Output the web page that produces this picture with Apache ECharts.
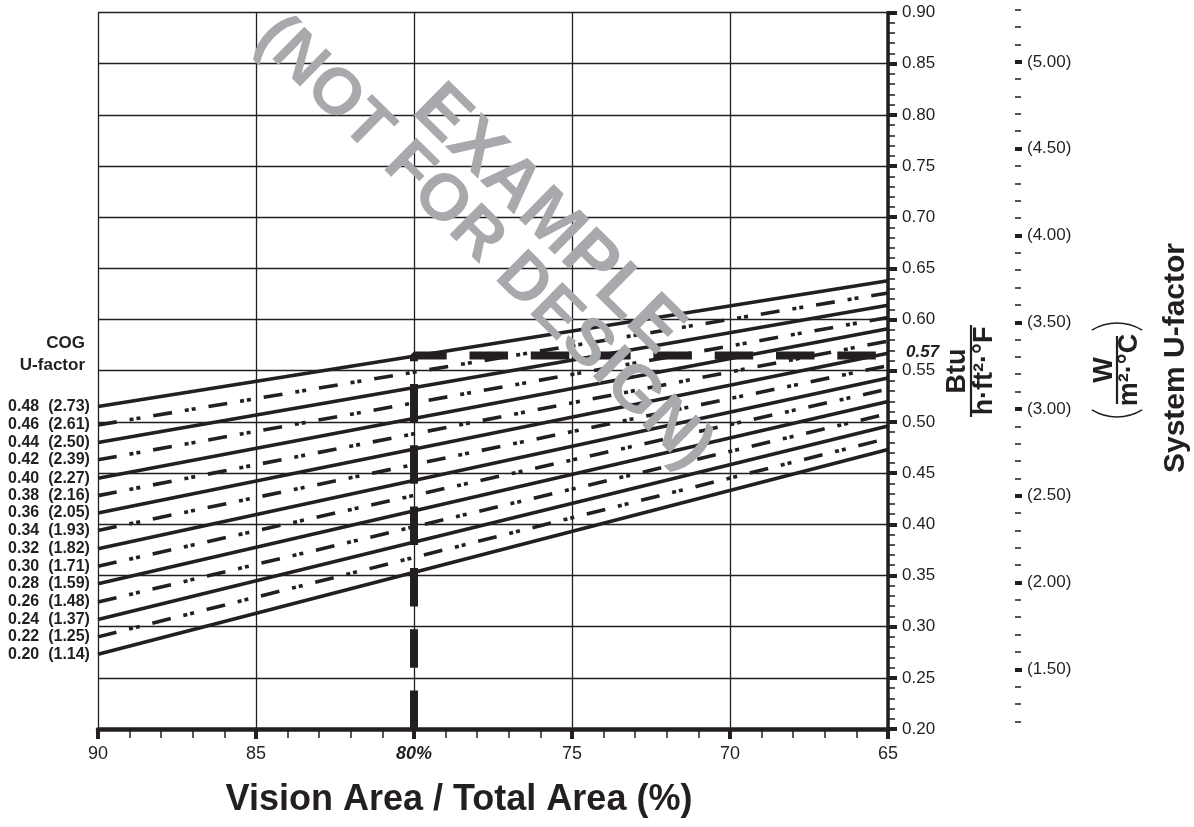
<!DOCTYPE html>
<html>
<head>
<meta charset="utf-8">
<script src="https://cdn.jsdelivr.net/npm/echarts/dist/echarts.min.js"></script>
<style>
  html, body { margin: 0; padding: 0; background: #fff; }
  #chart { width: 1194px; height: 827px; }
</style>
</head>
<body>
<div id="chart"></div>
<script>
// COG U-factor of each line, IP and (SI)
var cogIP = ['0.48', '0.46', '0.44', '0.42', '0.40', '0.38', '0.36', '0.34', '0.32', '0.30', '0.28', '0.26', '0.24', '0.22', '0.20']
var cogSI = ['2.73', '2.61', '2.50', '2.39', '2.27', '2.16', '2.05', '1.93', '1.82', '1.71', '1.59', '1.48', '1.37', '1.25', '1.14']
// vision area / total area (%) at the two ends of every line
var visionArea = [90, 65]
var sysAt90 = [0.515, 0.497, 0.480, 0.463, 0.445, 0.428, 0.411, 0.394, 0.376, 0.359, 0.342, 0.324, 0.307, 0.290, 0.273]
var sysAt65 = [0.638, 0.626, 0.614, 0.602, 0.591, 0.579, 0.567, 0.555, 0.543, 0.532, 0.520, 0.508, 0.496, 0.484, 0.473]
// worked example: 80 % vision area
var exampleX = [80, 80, 65]
var exampleY = [0.20, 0.565, 0.565]
var exampleLabel = '0.57'

var ink = '#231f20'
var font = '"Liberation Sans", Arial, Helvetica, sans-serif'

// the 15 COG lines, solid and dash-dot-dot in turn
var lineSeries = cogIP.map(function (c, k) {
  return {
    type: 'line',
    xAxisIndex: 0,
    yAxisIndex: 0,
    data: [[visionArea[0], sysAt90[k]], [visionArea[1], sysAt65[k]]],
    symbol: 'circle',
    symbolSize: 0.1,
    showSymbol: true,
    silent: true,
    z: 3,
    lineStyle: {
      color: ink,
      width: 3.6,
      cap: 'butt',
      type: k % 2 === 0 ? 'solid' : [19, 13, 4, 3, 4, 13]
    },
    itemStyle: { color: ink },
    label: {
      show: true,
      position: 'left',
      distance: 8,
      fontFamily: font,
      fontSize: 16,
      fontWeight: 'bold',
      color: ink,
      formatter: function (p) {
        return p.dataIndex === 0 ? c + '  (' + cogSI[k] + ')' : ''
      }
    }
  }
})

var guideSeries = {
  type: 'line',
  xAxisIndex: 0,
  yAxisIndex: 0,
  data: exampleX.map(function (x, i) { return [x, exampleY[i]] }),
  symbol: 'circle',
  symbolSize: 0.1,
  showSymbol: true,
  silent: true,
  z: 4,
  lineStyle: { color: ink, width: 8, cap: 'butt', type: [38.5, 22.8] },
  itemStyle: { color: ink },
  label: {
    show: true,
    position: 'right',
    distance: 18,
    offset: [0, -3],
    fontFamily: font,
    fontSize: 17,
    fontWeight: 'bold',
    fontStyle: 'italic',
    color: ink,
    formatter: function (p) {
      return p.dataIndex === exampleX.length - 1 ? exampleLabel : ''
    }
  }
}

function boldText (txt, x, y, size, extra) {
  return Object.assign({
    type: 'text', x: x, y: y,
    style: { text: txt, font: 'bold ' + size + 'px ' + font, fill: ink, align: 'center', verticalAlign: 'middle' }
  }, extra || {})
}

var noLine = { show: true, onZero: false, lineStyle: { color: 'rgba(0,0,0,0)', width: 0 } }

var option = {
  animation: false,
  backgroundColor: '#fff',
  grid: [
    { left: 98, right: 306, top: 12.5, bottom: 98, outerBoundsMode: 'none' },
    // SI scale, labelled ticks 1.5 .. 5.5
    { left: 1005, right: 179, top: -24.7, bottom: 157.7, outerBoundsMode: 'none' },
    // SI scale, fine ticks 1.2 .. 5.3 (same px per unit)
    { left: 1005, right: 179, top: 9.7, bottom: 105.6, outerBoundsMode: 'none' }
  ],
  xAxis: [
    {
      gridIndex: 0,
      type: 'value',
      min: 65,
      max: 90,
      interval: 5,
      inverse: true,
      position: 'bottom',
      axisLine: { onZero: false, lineStyle: { color: ink, width: 4.5 } },
      axisTick: { show: true, length: 10, lineStyle: { color: ink, width: 4 } },
      minorTick: { show: true, splitNumber: 5, length: 9, lineStyle: { color: ink, width: 1.5 } },
      splitLine: { show: true, lineStyle: { color: ink, width: 1.3 } },
      axisLabel: {
        margin: 16,
        fontFamily: font,
        fontSize: 18,
        color: ink,
        formatter: function (v) { return v === 80 ? '{em|80%}' : String(v) },
        rich: { em: { fontFamily: font, fontSize: 18, fontWeight: 'bold', fontStyle: 'italic', color: ink } }
      }
    },
    { gridIndex: 1, type: 'value', min: 0, max: 1, show: false },
    { gridIndex: 2, type: 'value', min: 0, max: 1, show: false }
  ],
  yAxis: [
    {
      gridIndex: 0,
      type: 'value',
      position: 'right',
      min: 0.2,
      max: 0.9,
      interval: 0.05,
      axisLine: { show: true, onZero: false, lineStyle: { color: ink, width: 3.5 } },
      axisTick: { show: true, length: 9, lineStyle: { color: ink, width: 4 } },
      minorTick: { show: true, splitNumber: 5, length: 7, lineStyle: { color: ink, width: 1.5 } },
      splitLine: { show: true, lineStyle: { color: ink, width: 1.3 } },
      axisLabel: {
        margin: 14,
        fontFamily: font,
        fontSize: 17,
        color: ink,
        formatter: function (v) { return v.toFixed(2) }
      }
    },
    {
      // W/(m²·°C), labelled ticks
      gridIndex: 1,
      type: 'value',
      position: 'right',
      min: 1.5,
      max: 5.5,
      interval: 0.5,
      axisLine: noLine,
      axisTick: { show: true, length: 7, lineStyle: { color: ink, width: 4 } },
      splitLine: { show: false },
      axisLabel: {
        margin: 12,
        fontFamily: font,
        fontSize: 17,
        color: ink,
        formatter: function (v) { return v > 5.2 ? '' : '(' + v.toFixed(2) + ')' }
      }
    },
    {
      // W/(m²·°C), fine ticks every 0.1
      gridIndex: 2,
      type: 'value',
      position: 'right',
      min: 1.2,
      max: 5.3,
      interval: 0.1,
      axisLine: noLine,
      axisTick: { show: true, length: 6, lineStyle: { color: ink, width: 1.5 } },
      splitLine: { show: false },
      axisLabel: { show: false }
    }
  ],
  graphic: [
    // left block title
    { type: 'text', x: 85, y: 343, style: { text: 'COG', font: 'bold 17px ' + font, fill: ink, align: 'right', verticalAlign: 'middle' } },
    { type: 'text', x: 85, y: 365, style: { text: 'U-factor', font: 'bold 17px ' + font, fill: ink, align: 'right', verticalAlign: 'middle' } },
    // x axis title
    boldText('Vision Area / Total Area (%)', 459, 800, 36),
    // Btu / h·ft²·°F
    {
      type: 'group', x: 971, y: 371, rotation: Math.PI / 2,
      children: [
        boldText('Btu', 0, -13, 27),
        { type: 'line', shape: { x1: -46, y1: 0, x2: 46, y2: 0 }, style: { stroke: ink, lineWidth: 2.2 } },
        boldText('h·ft²·°F', 0, 14, 27)
      ]
    },
    // (W / m²·°C)
    {
      type: 'group', x: 1117, y: 370, rotation: Math.PI / 2,
      children: [
        boldText('W', 0, -12, 27),
        { type: 'line', shape: { x1: -34, y1: 0, x2: 34, y2: 0 }, style: { stroke: ink, lineWidth: 2.2 } },
        boldText('m²·°C', 0, 13, 27),
        { type: 'arc', shape: { cx: 1, cy: 0, r: 48, startAngle: Math.PI - 0.55, endAngle: Math.PI + 0.55 }, style: { stroke: ink, lineWidth: 1.6, fill: null } },
        { type: 'arc', shape: { cx: -1, cy: 0, r: 48, startAngle: -0.55, endAngle: 0.55 }, style: { stroke: ink, lineWidth: 1.6, fill: null } }
      ]
    },
    // System U-factor
    boldText('System U-factor', 1176, 358, 30, { rotation: Math.PI / 2 }),
    // watermark
    {
      type: 'text', x: 548, y: 220, rotation: -0.78, z: 100,
      style: { text: 'EXAMPLE', font: 'bold 72px ' + font, fill: '#a7a9ac', align: 'center', verticalAlign: 'middle' }
    },
    {
      type: 'text', x: 484, y: 243, rotation: -0.78, z: 100,
      style: { text: '(NOT FOR DESIGN)', font: 'bold 66px ' + font, fill: '#a7a9ac', align: 'center', verticalAlign: 'middle' }
    }
  ],
  series: lineSeries.concat([guideSeries])
}

var myChart = echarts.init(document.getElementById('chart'))
myChart.setOption(option)
</script>
</body>
</html>
